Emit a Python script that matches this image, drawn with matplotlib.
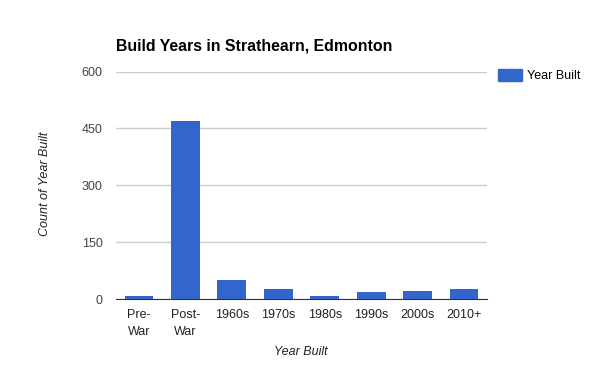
import matplotlib
matplotlib.use("Agg")
import matplotlib.pyplot as plt
from matplotlib.patches import Patch

# data
categories = ["Pre-\nWar", "Post-\nWar", "1960s", "1970s", "1980s", "1990s", "2000s", "2010+"]
counts = [9, 470, 51, 27, 9, 19, 22, 27]
yticks = [0, 150, 300, 450, 600]

plt.rcParams['font.family'] = ['Liberation Sans', 'DejaVu Sans']

fig = plt.figure(figsize=(6, 3.71), dpi=100)
ax = fig.add_axes([0.193, 0.194, 0.619, 0.613])

x = range(len(categories))
ax.bar(x, counts, width=0.62, color="#3366cc", zorder=3)

ax.set_xlim(-0.5, len(categories) - 0.5)
ax.set_ylim(0, 600)
ax.set_yticks(yticks)
ax.set_yticklabels([str(t) for t in yticks], fontsize=9, color="#444444")
ax.set_xticks(list(x))
ax.set_xticklabels(categories, fontsize=9, color="#222222", linespacing=1.6, va="top")
ax.tick_params(axis="both", length=0)
ax.tick_params(axis="y", pad=9.5)
ax.tick_params(axis="x", pad=7)

ax.grid(axis="y", color="#cccccc", linewidth=1, zorder=0)
for s in ["top", "right", "left"]:
    ax.spines[s].set_visible(False)
ax.spines["bottom"].set_color("#333333")
ax.spines["bottom"].set_zorder(4)

fig.text(0.193, 0.877, "Build Years in Strathearn, Edmonton", fontsize=11.4,
         fontweight="bold", color="#000000", ha="left", va="center")
fig.text(0.075, 0.505, "Count of Year Built", fontsize=9, style="italic",
         color="#222222", rotation=90, ha="center", va="center")
fig.text(0.502, 0.051, "Year Built", fontsize=9, style="italic",
         color="#222222", ha="center", va="center")

handle = Patch(color="#3366cc")
fig.legend([handle], ["Year Built"], loc="upper left", bbox_to_anchor=(0.83, 0.813),
           frameon=False, fontsize=9, handlelength=1.9, handleheight=1.0,
           handletextpad=0.4, borderaxespad=0, borderpad=0)

fig.savefig("out.png", dpi=100)
